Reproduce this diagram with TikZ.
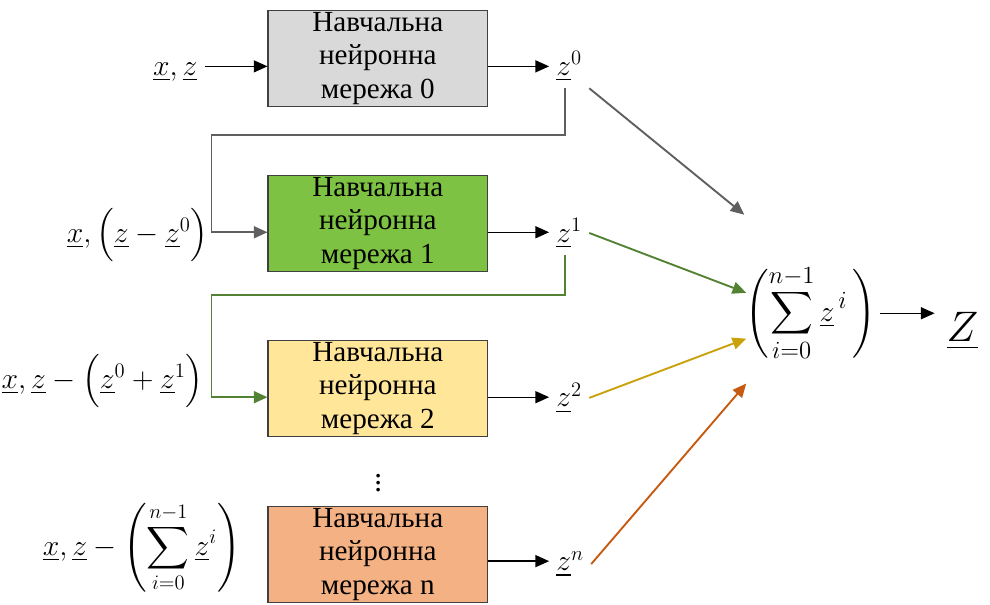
\documentclass[tikz,border=0pt]{standalone}
\usepackage{amsmath}
\usepackage{fontspec}
\setmainfont{Liberation Serif}
\newfontfamily\netfont{Liberation Serif}
\usetikzlibrary{arrows.meta}
\newcommand{\uvar}[1]{\underline{#1}}
\definecolor{netink}{HTML}{000000}
\definecolor{netframe}{HTML}{404040}
\definecolor{netgray}{HTML}{D9D9D9}
\definecolor{netgreen}{HTML}{7DC242}
\definecolor{netyellow}{HTML}{FFE699}
\definecolor{netorange}{HTML}{F4B183}
\definecolor{netdim}{HTML}{5F5F5F}
\definecolor{netleaf}{HTML}{548235}
\definecolor{netgold}{HTML}{C9A10A}
\definecolor{netrust}{HTML}{C65A11}

\begin{document}
\begin{tikzpicture}[
  x=0.02cm,
  y=-0.02cm,
  every node/.style={netink},
  net/.style={draw=netframe, line width=0.7pt, minimum width=4.5cm,
    minimum height=1.97cm, inner sep=0pt, align=center,
    font=\netfont\fontsize{17}{19.5}\selectfont},
  sym/.style={font=\fontsize{18}{22}\selectfont, inner sep=4pt},
  link/.style={netink, line width=0.8pt, -{Triangle[length=8pt, width=7pt]}},
  feed/.style={line width=1.1pt, -{Triangle[length=8pt, width=7pt]}}
]
  % ---- bounding box of the whole figure --------------------------------
  \path (0,0) rectangle (990,619);

  % ---- the four networks -----------------------------------------------
  \node[net, fill=netgray]   (net0) at (374.5,60)  {Навчальна\\нейронна\\мережа 0};
  \node[net, fill=netgreen]  (net1) at (374.5,229) {Навчальна\\нейронна\\мережа 1};
  \node[net, fill=netyellow] (net2) at (374.5,398) {Навчальна\\нейронна\\мережа 2};
  \node[net, fill=netorange] (netn) at (374.5,568) {Навчальна\\нейронна\\мережа n};
  \node[sym] (vdots) at (375,490) {$\vdots$};

  % ---- rows of the arrows, a little under the middle of the boxes ------
  \coordinate (in0)  at ([yshift=-0.16cm]net0.west);
  \coordinate (in1)  at ([yshift=-0.18cm]net1.west);
  \coordinate (in2)  at ([yshift=-0.18cm]net2.west);
  \coordinate (out0) at ([yshift=-0.16cm]net0.east);
  \coordinate (out1) at ([yshift=-0.18cm]net1.east);
  \coordinate (out2) at ([yshift=-0.18cm]net2.east);
  \coordinate (outn) at ([yshift=-0.14cm]netn.east);

  % ---- inputs ------------------------------------------------------------
  \node[sym, anchor=base east] (lab0) at (197,77) {$\uvar{x},\uvar{z}$};
  \node[sym, anchor=east, inner sep=1pt] (lab1) at (203,241)
    {$\uvar{x},\Bigl(\uvar{z}-\uvar{z}^{0}\Bigr)$};
  \node[sym, anchor=east, inner sep=1pt] (lab2) at (198,390)
    {$\uvar{x},\uvar{z}-\Bigl(\uvar{z}^{0}+\uvar{z}^{1}\Bigr)$};
  \node[sym, anchor=east, inner sep=1pt] (labn) at (236,561)
    {$\displaystyle\uvar{x},\uvar{z}-\left(\sum_{i=0}^{n-1}\uvar{z}^{i}\right)$};

  % ---- outputs -----------------------------------------------------------
  \node[sym, anchor=base west] (z0) at (550,77)  {$\uvar{z}^{0}$};
  \node[sym, anchor=base west] (z1) at (550,248) {$\uvar{z}^{1}$};
  \node[sym, anchor=base west] (z2) at (550,417) {$\uvar{z}^{2}$};
  \node[sym, anchor=base west] (zn) at (550,585) {$\uvar{z}^{n}$};

  % ---- the sum and the result --------------------------------------------
  \node[sym, font=\fontsize{19}{23}\selectfont, inner sep=2pt] (sum) at (818,321)
    {$\displaystyle\left(\sum_{i=0}^{n-1}\uvar{z}^{\,i}\,\right)$};
  \node[font=\fontsize{30}{36}\selectfont, anchor=base west, inner sep=0pt,
    inner xsep=0.24cm] (zres) at (945,350) {$\uvar{Z}$};
  \coordinate (to0) at (750,220);
  \coordinate (to1) at (752,300);
  \coordinate (to2) at (752,347);
  \coordinate (ton) at (752,393);

  % ---- black arrows into and out of the boxes ----------------------------
  \draw[link] (lab0.east |- in0) -- (in0);
  \draw[link] (out0) -- (out0 -| z0.west);
  \draw[link] (out1) -- (out1 -| z1.west);
  \draw[link] (out2) -- (out2 -| z2.west);
  \draw[link] (outn) -- (outn -| zn.west);
  \draw[link] (sum.east) -- (sum.east -| zres.west);

  % ---- feedback of the outputs -------------------------------------------
  \draw[feed, netdim]  ([xshift=0.32cm]z0.south west) |- (204,138) |- (in1);
  \draw[feed, netleaf] ([xshift=0.32cm]z1.south west) |- (204,302) |- (in2);

  % ---- every output into the sum -----------------------------------------
  \draw[feed, netdim]  (z0.south east) -- (to0);
  \draw[feed, netleaf] (z1.east) -- (to1);
  \draw[feed, netgold] (z2.east) -- (to2);
  \draw[feed, netrust] (zn.east) -- (ton);
\end{tikzpicture}
\end{document}
